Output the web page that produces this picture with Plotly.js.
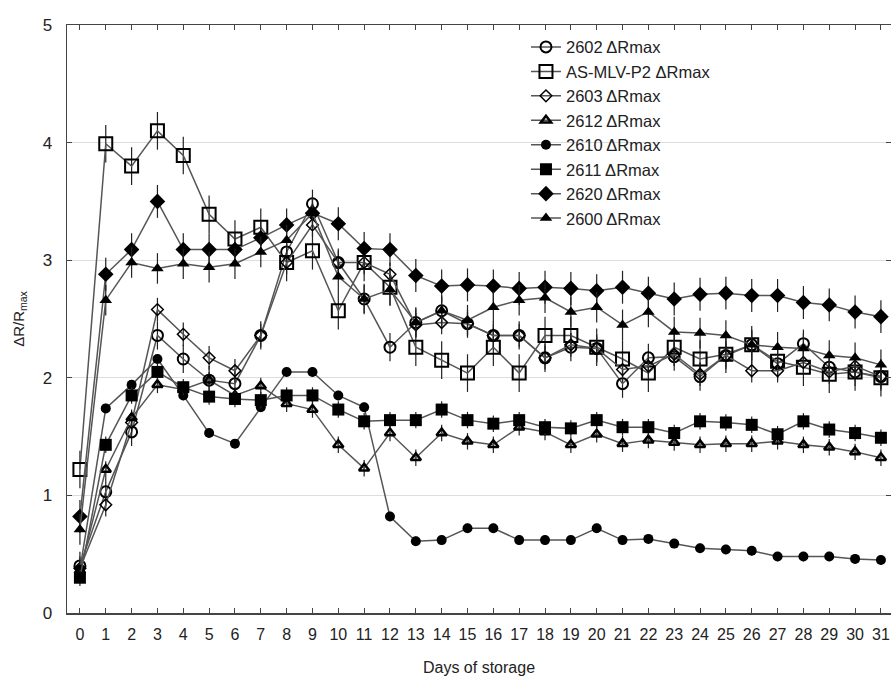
<!DOCTYPE html>
<html><head><meta charset="utf-8">
<script src="https://cdn.plot.ly/plotly-3.0.1.min.js"></script>
<style>html,body{margin:0;padding:0;background:#fff}#chart{width:891px;height:677px}</style>
</head><body><div id="chart"></div>
<script>
const days = [0,1,2,3,4,5,6,7,8,9,10,11,12,13,14,15,16,17,18,19,20,21,22,23,24,25,26,27,28,29,30,31];
const tickLabels = days.map(String);

const names = ["2602 ΔRmax","AS-MLV-P2 ΔRmax","2603 ΔRmax","2612 ΔRmax","2610 ΔRmax","2611 ΔRmax","2620 ΔRmax","2600 ΔRmax"];

const s2602 = [0.40,1.03,1.54,2.36,2.16,1.98,1.95,2.36,3.07,3.48,2.98,2.67,2.26,2.47,2.57,2.46,2.36,2.36,2.17,2.26,2.25,1.95,2.17,2.18,2.01,2.19,2.28,2.12,2.29,2.09,2.05,2.01];
const sAS   = [1.22,3.99,3.80,4.10,3.89,3.39,3.18,3.28,2.98,3.08,2.57,2.98,2.77,2.26,2.15,2.04,2.26,2.04,2.36,2.36,2.26,2.16,2.04,2.26,2.16,2.20,2.28,2.14,2.09,2.03,2.05,2.00];
const s2603 = [0.38,0.92,1.62,2.58,2.37,2.17,2.06,2.36,2.98,3.30,2.98,2.98,2.88,2.45,2.47,2.46,2.36,2.36,2.17,2.28,2.25,2.07,2.10,2.20,2.03,2.19,2.06,2.06,2.13,2.05,2.10,2.01];
const s2612 = [0.36,1.22,1.66,1.94,1.90,1.98,1.85,1.93,1.78,1.73,1.43,1.23,1.53,1.32,1.53,1.46,1.43,1.58,1.54,1.43,1.52,1.44,1.47,1.45,1.43,1.44,1.44,1.46,1.43,1.41,1.37,1.32];
const s2610 = [0.37,1.74,1.94,2.16,1.85,1.53,1.44,1.75,2.05,2.05,1.85,1.75,0.82,0.61,0.62,0.72,0.72,0.62,0.62,0.62,0.72,0.62,0.63,0.59,0.55,0.54,0.53,0.48,0.48,0.48,0.46,0.45];
const s2611 = [0.30,1.43,1.85,2.05,1.92,1.84,1.82,1.81,1.85,1.85,1.73,1.63,1.64,1.64,1.73,1.64,1.61,1.64,1.58,1.57,1.64,1.58,1.58,1.53,1.63,1.62,1.60,1.52,1.63,1.56,1.53,1.49];
const s2620 = [0.82,2.88,3.09,3.50,3.09,3.09,3.09,3.19,3.30,3.40,3.31,3.10,3.09,2.87,2.78,2.79,2.78,2.76,2.77,2.76,2.74,2.77,2.72,2.67,2.71,2.72,2.70,2.70,2.64,2.62,2.56,2.52];
const s2600 = [0.71,2.66,2.98,2.93,2.97,2.94,2.97,3.07,3.17,3.40,2.86,2.67,2.75,2.47,2.57,2.49,2.60,2.66,2.68,2.56,2.60,2.45,2.56,2.39,2.38,2.36,2.28,2.26,2.25,2.19,2.17,2.11];

// estimated error-bar half-lengths per series
const errValues = [0.12,0.16,0.10,0.07,0.04,0.07,0.14,0.13];

const seriesData = [s2602,sAS,s2603,s2612,s2610,s2611,s2620,s2600];
const markerStyles = [
  {symbol:'circle-open', size:11, line:{width:2}},
  {symbol:'square-open', size:13, line:{width:2}},
  {symbol:'diamond-open', size:9, line:{width:1.5}},
  {symbol:'triangle-up-open', size:9, line:{width:2.5}},
  {symbol:'circle', size:10},
  {symbol:'square', size:12},
  {symbol:'diamond', size:12},
  {symbol:'triangle-up', size:11}
];

const traces = seriesData.map((ys,i)=>({
  x: days, y: ys, name: names[i], type:'scatter', mode:'lines+markers',
  line:{color:'#555', width:1.5},
  marker:Object.assign({color:'#000'}, markerStyles[i], {line:Object.assign({color:'#000'}, markerStyles[i].line||{width:0})}),
  error_y:{type:'constant', value:errValues[i], color:'#222', thickness:1.2, width:0},
  cliponaxis:false
}));

const layout = {
  width:891, height:677,
  margin:{l:67, r:0, t:25, b:64},
  paper_bgcolor:'#fff', plot_bgcolor:'#fff',
  font:{family:'"Liberation Sans", Arial, sans-serif', color:'#222'},
  showlegend:true,
  legend:{x:0.557, y:0.992, xanchor:'left', yanchor:'top', bgcolor:'rgba(0,0,0,0)',
          font:{size:16.5, color:'#222'}, tracegroupgap:0, itemwidth:30},
  xaxis:{range:[-0.5,31.39], tickmode:'array', tickvals:days, ticktext:tickLabels,
         showgrid:false, zeroline:false, showline:true, linecolor:'#444', linewidth:1.5,
         ticks:'inside', ticklen:5, tickcolor:'#444', mirror:'ticks', ticklabelstandoff:6,
         tickfont:{family:'"Liberation Sans", Arial', size:16, color:'#222'},
         title:{text:'Days of storage', font:{family:'"Liberation Sans", Arial', size:16, color:'#222'}, standoff:20}},
  yaxis:{range:[0,5], tickvals:[0,1,2,3,4,5], showgrid:true, gridcolor:'#ddd', gridwidth:1,
         zeroline:false, showline:true, linecolor:'#444', linewidth:1.5,
         ticks:'inside', ticklen:5, tickcolor:'#444', mirror:'ticks', ticklabelstandoff:10,
         tickfont:{family:'"Liberation Sans", Arial', size:17, color:'#222'},
         title:{text:'ΔR/R<sub>max</sub>', font:{size:15, color:'#222'}, standoff:14}}
};

Plotly.newPlot('chart', traces, layout, {displayModeBar:false, staticPlot:true});
</script></body></html>
